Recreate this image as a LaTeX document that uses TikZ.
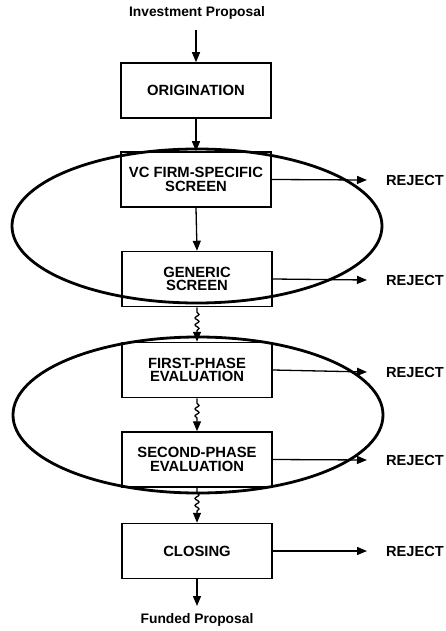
\documentclass[tikz,border=0pt]{standalone}
\usepackage{fontspec}
\setmainfont{Liberation Sans}
\usetikzlibrary{arrows.meta,decorations.pathmorphing}

\begin{document}
\begin{tikzpicture}[x=1pt,y=-1pt,
  stage/.style={draw, line width=1.5pt, minimum width=150pt, minimum height=55pt,
    align=center, font=\fontsize{14.8}{13.5}\selectfont\bfseries, inner sep=0pt},
  flow/.style={line width=1.3pt, -{Triangle[length=10pt,width=8pt]}},
  wavy/.style={flow, decorate, decoration={snake, amplitude=2pt, segment length=7pt,
    pre length=5pt, post length=11pt}},
  group/.style={draw, line width=2.8pt},
  endtext/.style={font=\fontsize{13.8}{15}\selectfont\bfseries, inner sep=0pt},
  rejtext/.style={font=\fontsize{14.6}{15}\selectfont\bfseries, inner sep=0pt, anchor=west},
]
\useasboundingbox (0,0) rectangle (445,631);

% stages of the process
\node[stage] (orig) at (196,90.5)  {ORIGINATION};
\node[stage] (vc)   at (196,179.5) {VC FIRM-SPECIFIC\\SCREEN};
\node[stage] (gen)  at (197,279)   {GENERIC\\SCREEN};
\node[stage] (fp)   at (197,370)   {FIRST-PHASE\\EVALUATION};
\node[stage] (sp)   at (197,459.5) {SECOND-PHASE\\EVALUATION};
\node[stage] (cl)   at (197,551)   {CLOSING};

% input and output labels
\node[endtext] (inv) at (197,13)  {Investment Proposal};
\node[endtext] (fund) at (197,620) {Funded Proposal};
\coordinate (invend) at (196,30);
\coordinate (fundend) at (197,606);

% groupings of stages
\draw[group] (197,226) ellipse [x radius=185pt, y radius=77pt];
\draw[group] (198,415) ellipse [x radius=185pt, y radius=78pt];

% main flow
\draw[flow] (invend) -- (orig.north);
\draw[flow] (orig.south) -- (vc.north);
\draw[flow] (vc.south) -- (gen.north);
\draw[wavy] (gen.south) -- (fp.north);
\draw[wavy] (fp.south) -- (sp.north);
\draw[wavy] (sp.south) -- (cl.north);
\draw[flow] (cl.south) -- (fundend);

% rejection exits
\node[rejtext] (r1) at (386,180) {REJECT};
\node[rejtext] (r2) at (386,280) {REJECT};
\node[rejtext] (r3) at (386,372) {REJECT};
\node[rejtext] (r4) at (386,460) {REJECT};
\node[rejtext] (r5) at (386,551) {REJECT};
\draw[flow] (vc.east)  -- ([xshift=-19pt]r1.west);
\draw[flow] (gen.east) -- ([xshift=-19pt]r2.west);
\draw[flow] (fp.east)  -- ([xshift=-19pt]r3.west);
\draw[flow] (sp.east)  -- ([xshift=-19pt]r4.west);
\draw[flow] (cl.east)  -- ([xshift=-19pt]r5.west);
\end{tikzpicture}
\end{document}
